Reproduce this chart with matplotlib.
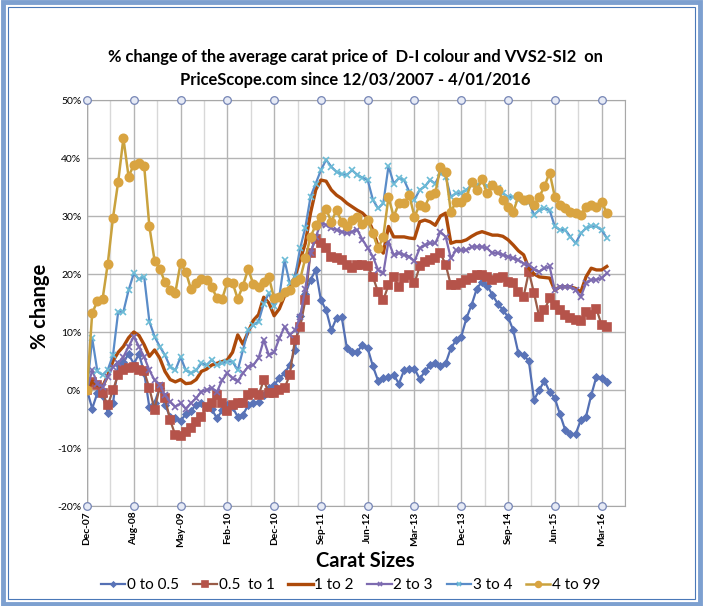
import matplotlib
matplotlib.use("Agg")
import matplotlib.pyplot as plt
from matplotlib.patches import Rectangle

plt.rcParams['font.family'] = ['Lato', 'DejaVu Sans']

# tick labels (every 9th monthly sample)
tick_labels = ["Dec-07", "Aug-08", "May-09", "Feb-10", "Dec-10", "Sep-11",
               "Jun-12", "Mar-13", "Dec-13", "Sep-14", "Jun-15", "Mar-16"]
series_names = ["0 to 0.5", "0.5  to 1", "1 to 2", "2 to 3", "3 to 4", "4 to 99"]

# % change per sample
s_0_05 = [0, -3.2, -0.5, -1.0, -3.9, -2.3, 4.5, 4.8, 6.2, 4.5,
          6.2, 3.0, -3.0, -2.2, 0.4, -2.5, -4.7, -4.8, -5.3, -4.2,
          -3.6, -2.5, -2.2, -3.0, -3.3, -4.9, -3.5, -2.6, -3.0, -4.6,
          -4.3, -2.6, -2.3, -2.0, -0.9, 0.3, 0.9, 2.0, 2.9, 4.3,
          6.9, 12.7, 16.5, 19.0, 20.7, 15.5, 13.8, 10.3, 12.4, 12.6,
          7.2, 6.5, 6.6, 7.8, 7.2, 4.1, 1.6, 2.0, 2.3, 2.6,
          1.1, 3.4, 3.6, 3.7, 1.9, 3.2, 4.3, 4.6, 4.1, 4.6,
          7.2, 8.6, 9.2, 12.4, 14.7, 17.5, 18.7, 18.0, 16.4, 14.9,
          13.8, 12.6, 10.3, 6.3, 6.0, 5.0, -1.7, 0.0, 1.6, -0.3,
          -1.4, -4.2, -6.9, -7.6, -7.6, -5.2, -4.6, -0.9, 2.3, 2.0,
          1.4]
s_05_1 = [0, 1.4, 0.8, -0.6, -2.6, 0.0, 2.6, 3.4, 3.8, 4.0,
          3.4, 3.2, 0.3, -3.4, 0.6, -1.4, -5.2, -7.8, -8.0, -7.2,
          -6.6, -5.5, -4.6, -2.9, -2.3, -0.9, -2.3, -3.7, -2.6, -2.3,
          -2.3, -0.9, -0.6, -0.9, 1.7, -0.6, -0.6, 0.0, 0.3, 2.6,
          8.6, 10.8, 15.5, 23.7, 26.1, 25.3, 24.4, 23.0, 22.7, 22.4,
          21.6, 21.0, 21.6, 21.6, 21.4, 19.5, 16.9, 15.5, 18.1, 19.5,
          17.8, 19.3, 19.8, 18.4, 21.3, 22.1, 22.4, 22.7, 23.6, 21.6,
          18.1, 18.1, 18.4, 19.0, 19.3, 19.8, 19.8, 19.5, 19.0, 19.3,
          19.5, 18.7, 18.4, 16.9, 16.1, 20.4, 16.7, 12.6, 13.8, 15.8,
          14.7, 13.8, 12.9, 12.4, 12.1, 11.9, 13.5, 12.9, 14.0, 11.2,
          10.8]
s_1_2 = [0, 1.5, 0.8, 0.6, 2.5, 5.0, 6.5, 7.5, 9.0, 10.0,
         9.4, 7.8, 5.8, 6.9, 5.5, 3.2, 1.8, 1.4, 1.8, 1.1,
         1.2, 1.8, 3.2, 3.6, 4.3, 4.6, 4.9, 5.2, 6.5, 9.5,
         7.9, 10.0, 12.0, 13.0, 16.0, 15.0, 12.8, 14.0, 16.2, 17.5,
         19.5, 22.4, 25.3, 30.5, 34.5, 36.2, 36.0, 34.5, 33.6, 33.0,
         32.2, 31.6, 31.0, 30.5, 29.6, 27.5, 24.8, 23.6, 28.2, 26.4,
         26.4, 26.4, 26.2, 26.1, 29.0, 29.3, 29.0, 28.4, 30.0, 30.5,
         25.3, 25.6, 25.6, 25.9, 26.5, 27.0, 27.3, 27.0, 26.7, 26.7,
         26.5, 25.9, 25.0, 24.0, 23.3, 21.0, 20.0, 19.5, 19.4, 19.3,
         17.2, 17.8, 17.8, 17.8, 17.5, 16.9, 19.5, 21.0, 20.7, 20.7,
         21.3]
s_2_3 = [0, 3.4, 1.1, 0.6, 2.3, 4.0, 4.6, 5.7, 7.5, 9.2,
         7.5, 5.7, 3.4, 1.7, 0.9, -0.9, -2.0, -2.9, -2.3, -3.2,
         -2.3, -1.4, -0.3, 0.0, 0.3, -0.3, 1.7, 2.9, 2.0, 1.5,
         2.9, 4.0, 4.3, 5.5, 8.6, 6.0, 6.5, 8.9, 10.9, 9.5,
         10.3, 12.6, 17.5, 23.6, 26.4, 28.7, 28.5, 27.9, 27.6, 27.3,
         27.0, 27.3, 27.6, 25.9, 24.5, 23.0, 20.7, 20.1, 25.6, 23.3,
         23.6, 23.3, 23.0, 22.2, 24.4, 25.0, 25.3, 25.3, 27.3, 26.4,
         22.7, 24.1, 24.1, 24.1, 24.7, 24.7, 24.7, 24.4, 23.6, 23.6,
         23.3, 23.0, 22.7, 22.4, 21.8, 21.6, 20.8, 20.4, 21.0, 21.3,
         17.2, 17.8, 17.8, 17.8, 17.2, 16.1, 18.4, 19.0, 19.0, 19.3,
         20.1]
s_3_4 = [0, 8.9, 3.2, 2.6, 3.5, 6.0, 13.5, 13.5, 17.2, 20.1,
         19.1, 19.5, 11.8, 9.2, 7.5, 6.0, 4.0, 3.4, 5.7, 3.4,
         2.9, 3.4, 4.6, 4.3, 5.2, 4.3, 4.6, 4.9, 4.9, 3.4,
         6.9, 10.3, 11.2, 11.8, 14.9, 16.7, 14.4, 16.1, 22.4, 18.4,
         19.5, 24.4, 28.0, 33.3, 35.6, 37.9, 39.7, 38.5, 37.6, 37.2,
         37.1, 37.9, 37.1, 36.6, 36.2, 32.8, 31.3, 32.2, 38.6, 35.6,
         36.5, 36.2, 34.2, 32.8, 34.5, 35.1, 36.2, 35.6, 37.4, 36.8,
         33.3, 33.9, 33.9, 34.5, 35.3, 35.3, 35.9, 35.1, 35.6, 34.8,
         33.9, 33.3, 33.3, 32.8, 33.0, 32.5, 30.2, 31.0, 31.3, 31.0,
         28.2, 27.6, 27.6, 26.4, 25.3, 27.0, 27.9, 28.2, 28.2, 27.6,
         26.2]
s_4_99 = [0, 13.3, 15.3, 15.7, 21.8, 29.7, 35.9, 43.4, 36.8, 38.8,
          39.1, 38.6, 28.2, 22.3, 20.9, 18.6, 17.2, 16.8, 21.9, 20.4,
          17.4, 18.5, 19.1, 19.0, 17.8, 15.8, 15.7, 18.6, 18.5, 15.7,
          18.0, 20.8, 18.3, 17.7, 18.7, 19.4, 15.8, 16.1, 16.9, 17.2,
          18.7, 19.1, 22.7, 26.4, 28.4, 29.9, 31.2, 29.0, 31.0, 29.0,
          28.2, 29.3, 29.9, 28.7, 29.3, 27.0, 24.4, 26.4, 33.3, 29.9,
          32.2, 32.2, 33.6, 29.9, 31.9, 31.6, 33.6, 33.9, 38.5, 37.6,
          30.7, 32.5, 32.5, 33.3, 35.9, 34.5, 36.3, 33.9, 35.3, 34.5,
          32.8, 31.6, 30.7, 33.4, 32.8, 33.0, 31.9, 33.3, 35.1, 37.5,
          33.3, 31.9, 31.3, 30.7, 30.5, 30.2, 31.6, 31.9, 31.6, 32.5,
          30.5]

series = [s_0_05, s_05_1, s_1_2, s_2_3, s_3_4, s_4_99]
line_colors = ["#5470b4", "#9a5c48", "#ad4a0a", "#7d6bb0", "#5a8cc8", "#c9a23e"]
marker_colors = ["#5a74b8", "#b5534a", "#ad4a0a", "#7d6bb0", "#6cbcd6", "#d9a441"]
markers = ["D", "s", None, "x", "x", "o"]
msizes = [3.5, 5.5, 0, 5, 5, 6]
lwidths = [1.6, 1.6, 2.4, 1.6, 1.6, 1.8]

fig = plt.figure(figsize=(7.03, 6.06), dpi=100)
fig.patches.append(Rectangle((0.004, 0.004), 0.992, 0.992, transform=fig.transFigure,
                             fill=False, edgecolor="#7da0d0", linewidth=3.5))
fig.patches.append(Rectangle((0.012, 0.012), 0.976, 0.976, transform=fig.transFigure,
                             fill=False, edgecolor="#4a78b8", linewidth=0.8))

ax = fig.add_axes([87 / 703, 100 / 606, 538 / 703, 406 / 606])
x = list(range(len(s_0_05)))
for vals, name, lc, mc, mk, ms, lw in zip(series, series_names, line_colors,
                                          marker_colors, markers, msizes, lwidths):
    ax.plot(x, vals, color=lc, lw=lw, marker=mk, ms=ms, mfc=mc, mec=mc,
            mew=1.2, label=name)

major = [9 * k for k in range(len(tick_labels))]
ax.set_xlim(0, 101)
ax.set_ylim(-20, 50)
ax.set_xticks(major)
ax.set_xticklabels(tick_labels, rotation=90, fontsize=7.3, fontweight="bold")
ax.set_xticks([m + 4.5 for m in major], minor=True)
yt = list(range(-20, 51, 10))
ax.set_yticks(yt)
ax.set_yticklabels([f"{v}%" for v in yt], fontsize=7.5)
ax.grid(True, which="major", color="#b4b4b4", lw=1.0)
ax.grid(True, which="minor", axis="x", color="#d8d8d8", lw=1.0)
ax.set_axisbelow(True)
ax.tick_params(length=0, pad=4)
ax.tick_params(axis="x", which="minor", length=0)
for sp in ax.spines.values():
    sp.set_color("#a8a8a8")
ax.spines["left"].set_visible(False)

# circle markers along top and bottom axes
ax.plot(major, [50] * len(major), "o", ms=5.5, mfc="#e6eaf5", mec="#7585b5",
        mew=0.9, clip_on=False, zorder=5)
ax.plot(major, [-20] * len(major), "o", ms=5.5, mfc="#e6eaf5", mec="#7585b5",
        mew=0.9, clip_on=False, zorder=5)
ax.plot([0, 0], [-20, 50], color="#a8a8a8", lw=1.0, zorder=1)

fig.text(0.505, 0.887, "% change of the average carat price of  D-I colour and VVS2-SI2  on\n"
         "PriceScope.com since 12/03/2007 - 4/01/2016",
         ha="center", va="center", fontsize=11.9, fontweight="bold", linespacing=1.5)
fig.text(0.057, 0.495, "% change", rotation=90, ha="center", va="center",
         fontsize=14.5, fontweight="bold")
fig.text(0.519, 0.074, "Carat Sizes", ha="center", va="center",
         fontsize=14.5, fontweight="bold")

ax.legend(loc="center", bbox_to_anchor=(0.49, -0.195), ncol=6, frameon=False,
          fontsize=11, handlelength=1.6, handletextpad=0.1, columnspacing=0.9,
          markerscale=0.7)

fig.savefig("out.png", dpi=100)
